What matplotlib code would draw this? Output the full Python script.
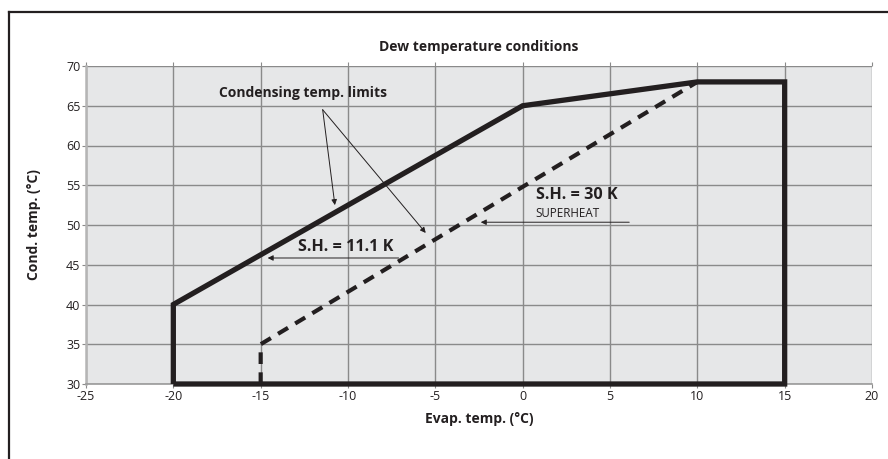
import matplotlib
matplotlib.use("Agg")
import matplotlib.pyplot as plt
from matplotlib.lines import Line2D

plt.rcParams['font.family'] = ['Open Sans', 'DejaVu Sans']
plt.rcParams['axes.unicode_minus'] = False

# envelope (solid): evaporating temp vs condensing temp
env_x = [-20, -20, 0, 10, 15, 15, -20]
env_y = [30, 40, 65, 68, 68, 30, 30]
# superheat 30 K limit (dashed)
sh_x = [-15, -15, 10]
sh_y = [30, 35, 68]

x_ticks = [-25, -20, -15, -10, -5, 0, 5, 10, 15, 20]
y_ticks = [30, 35, 40, 45, 50, 55, 60, 65, 70]

fig = plt.figure(figsize=(8.88, 4.59), dpi=100)
ax = fig.add_axes([86/888, 1-384/459, (872-86)/888, (384-66)/459])
ax.set_facecolor('#e6e7e8')
ax.set_xlim(-25, 20)
ax.set_ylim(30, 70)
ax.set_xticks(x_ticks)
ax.set_yticks(y_ticks)
ax.grid(True, color='#8a8a8a', lw=1.0)
ax.set_axisbelow(True)
ax.spines['right'].set_visible(False)
ax.spines['top'].set_visible(False)
ax.spines['left'].set_color('#b5b5b5')
ax.spines['left'].set_linewidth(1.8)
ax.spines['bottom'].set_color('#9a9a9a')
ax.spines['bottom'].set_linewidth(1.2)
ax.tick_params(direction='out', length=3, color='#8a8a8a', labelsize=9,
               labelcolor='#231f20', top=True, pad=1)

ax.plot(env_x, env_y, color='#231f20', lw=3.8, solid_joinstyle='miter',
        solid_capstyle='butt', zorder=5, clip_on=False)
ax.plot(sh_x, sh_y, color='#231f20', lw=3.0, dashes=(2.8, 2.0), zorder=5,
        clip_on=False)

ax.set_title('Dew temperature conditions', fontsize=10, fontweight='bold',
             color='#231f20', pad=11)
ax.set_xlabel('Evap. temp. (°C)', fontsize=10, fontweight='bold',
              color='#231f20', labelpad=7)
ax.set_ylabel('Cond. temp. (°C)', fontsize=10, fontweight='bold',
              color='#231f20', labelpad=18)

# annotations
ax.text(-12.55, 66.6, 'Condensing temp. limits', fontsize=10, fontweight='bold',
        color='#231f20', ha='center', va='center')
apex = (-11.45, 64.5)
for tip in [(-10.75, 52.5), (-5.55, 49.0)]:
    ax.annotate('', xy=tip, xytext=apex,
                arrowprops=dict(arrowstyle='-|>', color='#231f20', lw=0.7,
                                mutation_scale=8, shrinkA=0, shrinkB=0))

ax.text(-10.15, 47.2, 'S.H. = 11.1 K', fontsize=11.6, fontweight='bold',
        color='#231f20', ha='center', va='center')
ax.annotate('', xy=(-14.6, 45.85), xytext=(-7.1, 45.85),
            arrowprops=dict(arrowstyle='-|>', color='#231f20', lw=0.7,
                            mutation_scale=8, shrinkA=0, shrinkB=0))

ax.text(0.75, 53.8, 'S.H. = 30 K', fontsize=11.6, fontweight='bold',
        color='#231f20', ha='left', va='center')
ax.text(0.75, 51.4, 'SUPERHEAT', fontsize=8.4,
        color='#231f20', ha='left', va='center')
ax.annotate('', xy=(-2.4, 50.35), xytext=(6.1, 50.35),
            arrowprops=dict(arrowstyle='-|>', color='#231f20', lw=0.7,
                            mutation_scale=8, shrinkA=0, shrinkB=0))

# outer frame
fig.add_artist(Line2D([9/888, 1.0], [1-12/459, 1-12/459], color='#231f20', lw=1.6))
fig.add_artist(Line2D([9/888, 9/888], [1-12/459, 0], color='#231f20', lw=1.6))

fig.savefig('out.png', dpi=100, facecolor='white')
